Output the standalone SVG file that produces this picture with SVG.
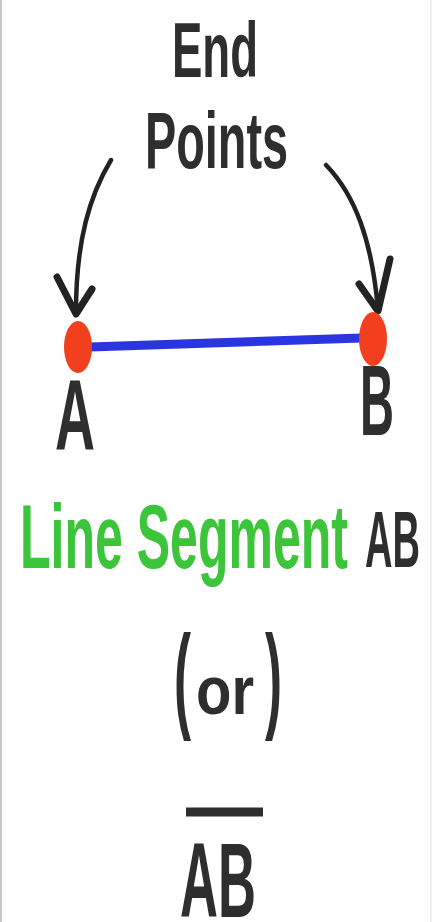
<svg xmlns="http://www.w3.org/2000/svg" width="433" height="922" viewBox="0 0 433 922">
<style>
.t{font-family:"Liberation Sans","DejaVu Sans",sans-serif;font-weight:bold;fill:#2e2e2e}
.g{fill:#3cc43a}
.c{fill:none;stroke:#222;stroke-width:4.5;stroke-linecap:round}
.h{fill:none;stroke:#222;stroke-width:7;stroke-linecap:round;stroke-linejoin:round}
.dot{fill:#f2401f}
</style>
<rect width="433" height="922" fill="#fff"/>
<line x1="1" y1="0" x2="1" y2="922" stroke="#c8c8c8" stroke-width="2"/>
<line x1="431" y1="0" x2="431" y2="922" stroke="#eeeeee" stroke-width="2"/>
<g id="label-endpoints">
<text class="t" x="172" y="77" font-size="78" textLength="86" lengthAdjust="spacingAndGlyphs">End</text>
<text class="t" x="145" y="168" font-size="80" textLength="143" lengthAdjust="spacingAndGlyphs">Points</text>
</g>
<g id="connectors">
<path class="c" d="M111,160 C90,195 76,240 76,312"/>
<path class="h" d="M57,277 L76,314 L92,289"/>
<path class="c" d="M326,165 C355,195 372,240 378,310"/>
<path class="h" d="M359,284 L378,311 L390,259"/>
</g>
<g id="segment">
<line x1="90" y1="347" x2="362" y2="338" stroke="#2a35e0" stroke-width="9"/>
</g>
<g id="point-A">
<ellipse class="dot" cx="78" cy="347" rx="14" ry="26"/>
<text class="t" x="55" y="450" font-size="100" textLength="40" lengthAdjust="spacingAndGlyphs">A</text>
</g>
<g id="point-B">
<ellipse class="dot" cx="373" cy="339" rx="14" ry="27"/>
<text class="t" x="360" y="435" font-size="100" textLength="34" lengthAdjust="spacingAndGlyphs">B</text>
</g>
<g id="title">
<text class="t g" x="20" y="568" font-size="90" textLength="328" lengthAdjust="spacingAndGlyphs">Line Segment</text>
<text class="t" x="365" y="567" font-size="80" textLength="55" lengthAdjust="spacingAndGlyphs">AB</text>
</g>
<g id="or">
<text class="t" x="174" y="717" font-size="116" textLength="17" lengthAdjust="spacingAndGlyphs">(</text>
<text class="t" x="196" y="714" font-size="68" textLength="58" lengthAdjust="spacingAndGlyphs">or</text>
<text class="t" x="265" y="717" font-size="116" textLength="17" lengthAdjust="spacingAndGlyphs">)</text>
</g>
<g id="notation">
<line x1="186" y1="812" x2="263" y2="812" stroke="#2e2e2e" stroke-width="9"/>
<text class="t" x="180" y="917" font-size="105" textLength="76" lengthAdjust="spacingAndGlyphs">AB</text>
</g>
</svg>
